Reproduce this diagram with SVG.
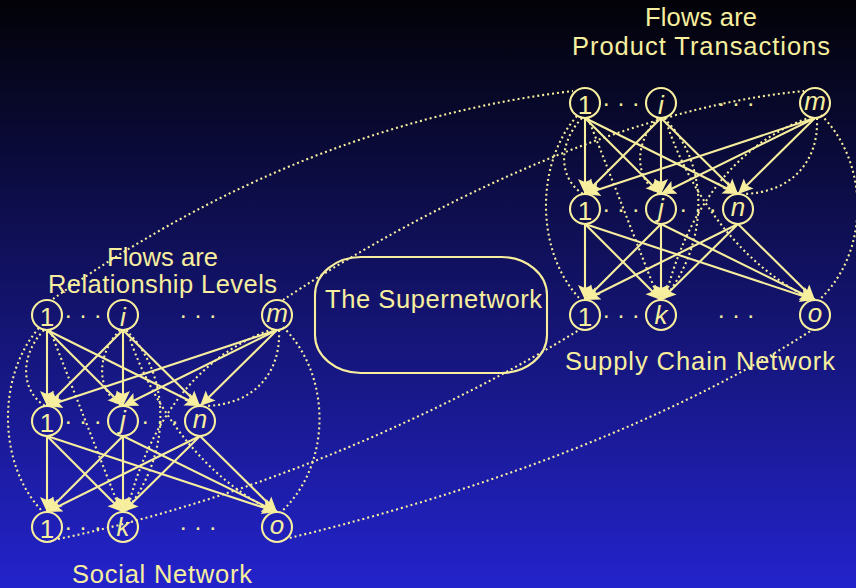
<svg xmlns="http://www.w3.org/2000/svg" width="856" height="588" viewBox="0 0 856 588">
<defs>
<linearGradient id="bg" x1="0" y1="0" x2="0" y2="1">
<stop offset="0" stop-color="#020207"/>
<stop offset="1" stop-color="#2323cc"/>
</linearGradient>
<marker id="arr" markerUnits="userSpaceOnUse" markerWidth="17" markerHeight="16" refX="15" refY="8" orient="auto">
<path d="M0,1 L15,8 L0,15 L3,8 Z" fill="#F7EE9E"/>
</marker>
<style>
.solid{fill:none;stroke:#F7EE9E;stroke-width:2.1;marker-end:url(#arr)}
.dot{fill:none;stroke:#F7EE9E;stroke-width:2.1;stroke-dasharray:2 3}
.node circle{fill:none;stroke:#F7EE9E;stroke-width:2.1}
.node text{font-family:"Liberation Sans",Arial,sans-serif;font-size:26px;fill:#F7EE9E;text-anchor:middle}
.node text.it{font-style:italic}
.lbl{font-family:"Liberation Sans",Arial,sans-serif;font-size:25.5px;fill:#F7EE9E;text-anchor:middle}
.ell{font-family:"Liberation Sans",Arial,sans-serif;font-size:24px;fill:#F7EE9E;text-anchor:middle}
.box{fill:none;stroke:#F7EE9E;stroke-width:2.1}
</style>
</defs>
<rect x="0" y="0" width="856" height="588" fill="url(#bg)"/>

<g id="connectors">
  <g id="social-edges" transform="translate(47,315)">
    <path class="solid" d="M0,15 L0,91"/>
    <path class="solid" d="M0,15 L76,91"/>
    <path class="solid" d="M0,15 L153,91"/>
    <path class="solid" d="M76,15 L0,91"/>
    <path class="solid" d="M76,15 L76,91"/>
    <path class="solid" d="M76,15 L153,91"/>
    <path class="solid" d="M230,15 L0,91"/>
    <path class="solid" d="M230,15 L76,91"/>
    <path class="solid" d="M230,15 L153,91"/>
    <path class="solid" d="M0,121 L0,197"/>
    <path class="solid" d="M0,121 L76,197"/>
    <path class="solid" d="M0,121 L230,197"/>
    <path class="solid" d="M76,121 L0,197"/>
    <path class="solid" d="M76,121 L76,197"/>
    <path class="solid" d="M76,121 L230,197"/>
    <path class="solid" d="M153,121 L0,197"/>
    <path class="solid" d="M153,121 L76,197"/>
    <path class="solid" d="M153,121 L230,197"/>
    <path class="dot" d="M-3,15 C-27,40 -27,75 -2,91"/>
    <path class="dot" d="M-8,13 C-50,60 -50,150 -4,197"/>
    <path class="dot" d="M3,15 L74,197"/>
    <path class="dot" d="M73,15 C49,40 49,75 74,91"/>
    <path class="dot" d="M79,15 C125,60 125,140 78,197"/>
    <path class="dot" d="M80,15 C100,80 150,160 228,197"/>
    <path class="dot" d="M232,15 C234,60 205,90 158,91"/>
    <path class="dot" d="M226,14 C150,40 100,110 80,197"/>
    <path class="dot" d="M236,12 C285,60 285,150 234,197"/>
  </g>
  <g id="supply-edges" transform="translate(585,103)">
    <path class="solid" d="M0,15 L0,91"/>
    <path class="solid" d="M0,15 L76,91"/>
    <path class="solid" d="M0,15 L153,91"/>
    <path class="solid" d="M76,15 L0,91"/>
    <path class="solid" d="M76,15 L76,91"/>
    <path class="solid" d="M76,15 L153,91"/>
    <path class="solid" d="M230,15 L0,91"/>
    <path class="solid" d="M230,15 L76,91"/>
    <path class="solid" d="M230,15 L153,91"/>
    <path class="solid" d="M0,121 L0,197"/>
    <path class="solid" d="M0,121 L76,197"/>
    <path class="solid" d="M0,121 L230,197"/>
    <path class="solid" d="M76,121 L0,197"/>
    <path class="solid" d="M76,121 L76,197"/>
    <path class="solid" d="M76,121 L230,197"/>
    <path class="solid" d="M153,121 L0,197"/>
    <path class="solid" d="M153,121 L76,197"/>
    <path class="solid" d="M153,121 L230,197"/>
    <path class="dot" d="M-3,15 C-27,40 -27,75 -2,91"/>
    <path class="dot" d="M-8,13 C-50,60 -50,150 -4,197"/>
    <path class="dot" d="M3,15 L74,197"/>
    <path class="dot" d="M73,15 C49,40 49,75 74,91"/>
    <path class="dot" d="M79,15 C125,60 125,140 78,197"/>
    <path class="dot" d="M80,15 C100,80 150,160 228,197"/>
    <path class="dot" d="M232,15 C234,60 205,90 158,91"/>
    <path class="dot" d="M226,14 C150,40 100,110 80,197"/>
    <path class="dot" d="M236,12 C285,60 285,150 234,197"/>
  </g>
  <g id="supernetwork-links">
    <path class="dot" d="M53,299 C150,230 330,120 573,91"/>
    <path class="dot" d="M283,300 C380,235 600,110 804,91"/>
    <path class="dot" d="M58,539 C250,500 450,410 579,330"/>
    <path class="dot" d="M285,539 C430,505 650,435 812,330"/>
  </g>
</g>

<g id="social-nodes">
  <g id="s-top-1" class="node"><circle cx="47" cy="315" r="15"/><text x="47" y="326">1</text></g>
  <g id="s-top-i" class="node"><circle cx="123" cy="315" r="15"/><text class="it" x="123" y="326">i</text></g>
  <g id="s-top-m" class="node"><circle cx="277" cy="315" r="15"/><text class="it" x="277" y="322">m</text></g>
  <g id="s-mid-1" class="node"><circle cx="47" cy="421" r="15"/><text x="47" y="432">1</text></g>
  <g id="s-mid-j" class="node"><circle cx="123" cy="421" r="15"/><text class="it" x="123" y="429">j</text></g>
  <g id="s-mid-n" class="node"><circle cx="200" cy="421" r="15"/><text class="it" x="200" y="428">n</text></g>
  <g id="s-bot-1" class="node"><circle cx="47" cy="527" r="15"/><text x="47" y="538">1</text></g>
  <g id="s-bot-k" class="node"><circle cx="123" cy="527" r="15"/><text class="it" x="123" y="536">k</text></g>
  <g id="s-bot-o" class="node"><circle cx="277" cy="527" r="15"/><text class="it" x="277" y="534">o</text></g>
</g>
<g id="supply-nodes">
  <g id="c-top-1" class="node"><circle cx="585" cy="103" r="15"/><text x="585" y="114">1</text></g>
  <g id="c-top-i" class="node"><circle cx="661" cy="103" r="15"/><text class="it" x="661" y="114">i</text></g>
  <g id="c-top-m" class="node"><circle cx="815" cy="103" r="15"/><text class="it" x="815" y="110">m</text></g>
  <g id="c-mid-1" class="node"><circle cx="585" cy="209" r="15"/><text x="585" y="220">1</text></g>
  <g id="c-mid-j" class="node"><circle cx="661" cy="209" r="15"/><text class="it" x="661" y="217">j</text></g>
  <g id="c-mid-n" class="node"><circle cx="738" cy="209" r="15"/><text class="it" x="738" y="216">n</text></g>
  <g id="c-bot-1" class="node"><circle cx="585" cy="315" r="15"/><text x="585" y="326">1</text></g>
  <g id="c-bot-k" class="node"><circle cx="661" cy="315" r="15"/><text class="it" x="661" y="324">k</text></g>
  <g id="c-bot-o" class="node"><circle cx="815" cy="315" r="15"/><text class="it" x="815" y="322">o</text></g>
</g>

<g id="ellipses">
  <text class="ell" x="83" y="323">· · ·</text>
  <text class="ell" x="198" y="323">· · ·</text>
  <text class="ell" x="83" y="429">· · ·</text>
  <text class="ell" x="160" y="429">· · ·</text>
  <text class="ell" x="83" y="535">· · ·</text>
  <text class="ell" x="198" y="535">· · ·</text>
  <text class="ell" x="621" y="111">· · ·</text>
  <text class="ell" x="736" y="111">· · ·</text>
  <text class="ell" x="621" y="217">· · ·</text>
  <text class="ell" x="698" y="217">· · ·</text>
  <text class="ell" x="621" y="323">· · ·</text>
  <text class="ell" x="736" y="323">· · ·</text>
</g>

<g id="supernetwork">
  <rect class="box" x="315" y="257" width="232" height="116" rx="46" ry="38"/>
  <text class="lbl" x="433.5" y="308" textLength="217">The Supernetwork</text>
</g>

<g id="labels">
  <text class="lbl" x="162.5" y="266" textLength="111">Flows are</text>
  <text class="lbl" x="162.5" y="293" textLength="229">Relationship Levels</text>
  <text class="lbl" x="162" y="583" textLength="180">Social Network</text>
  <text class="lbl" x="701" y="26" textLength="112">Flows are</text>
  <text class="lbl" x="701" y="55" textLength="258">Product Transactions</text>
  <text class="lbl" x="700" y="370" textLength="270">Supply Chain Network</text>
</g>
</svg>
